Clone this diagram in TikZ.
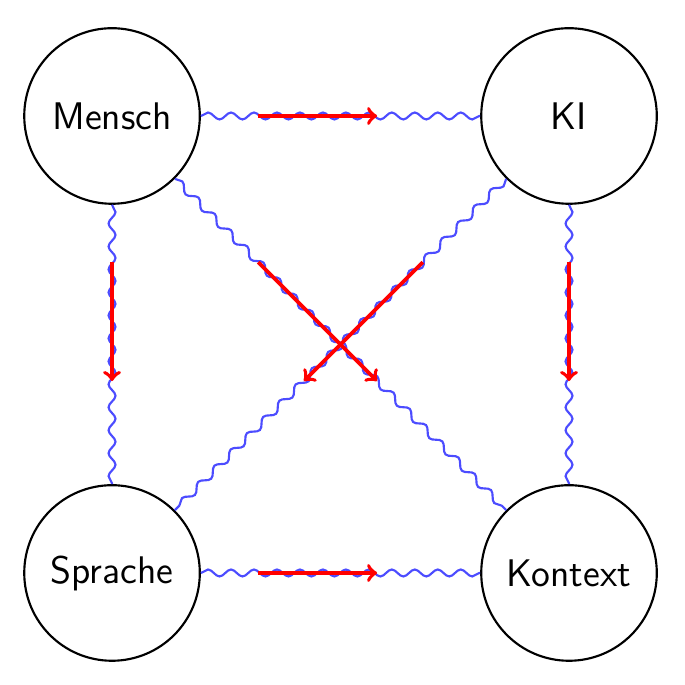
\documentclass[tikz,border=0pt]{standalone}
\usetikzlibrary{decorations.pathmorphing,calc,arrows}
\begin{document}
\begin{tikzpicture}[
  ent/.style={circle,draw,thick,minimum size=2.31cm,inner sep=0pt,font=\sffamily\Large},
  wave/.style={draw=blue!70,thick,decorate,decoration={snake,amplitude=1.3pt,segment length=8.6pt}},
  flow/.style={draw=red,line width=1.4pt,->}
]
\useasboundingbox (0,0) rectangle (9,-9.013);
\node[ent] (M) at (1.474,-1.526) {Mensch};
\node[ent] (K) at (7.487,-1.526) {KI};
\node[ent] (S) at (1.474,-7.539) {Sprache};
\node[ent] (C) at (7.487,-7.539) {Kontext};
\draw[wave] (M) -- (K);
\draw[wave] (M) -- (S);
\draw[wave] (K) -- (C);
\draw[wave] (S) -- (C);
\draw[wave] (M) -- (C);
\draw[wave] (K) -- (S);
\draw[flow] ($(M)!0.32!(K)$) -- ($(M)!0.58!(K)$);
\draw[flow] ($(M)!0.32!(S)$) -- ($(M)!0.58!(S)$);
\draw[flow] ($(K)!0.32!(C)$) -- ($(K)!0.58!(C)$);
\draw[flow] ($(S)!0.32!(C)$) -- ($(S)!0.58!(C)$);
\draw[flow] ($(M)!0.32!(C)$) -- ($(M)!0.58!(C)$);
\draw[flow] ($(K)!0.32!(S)$) -- ($(K)!0.58!(S)$);
\end{tikzpicture}
\end{document}
